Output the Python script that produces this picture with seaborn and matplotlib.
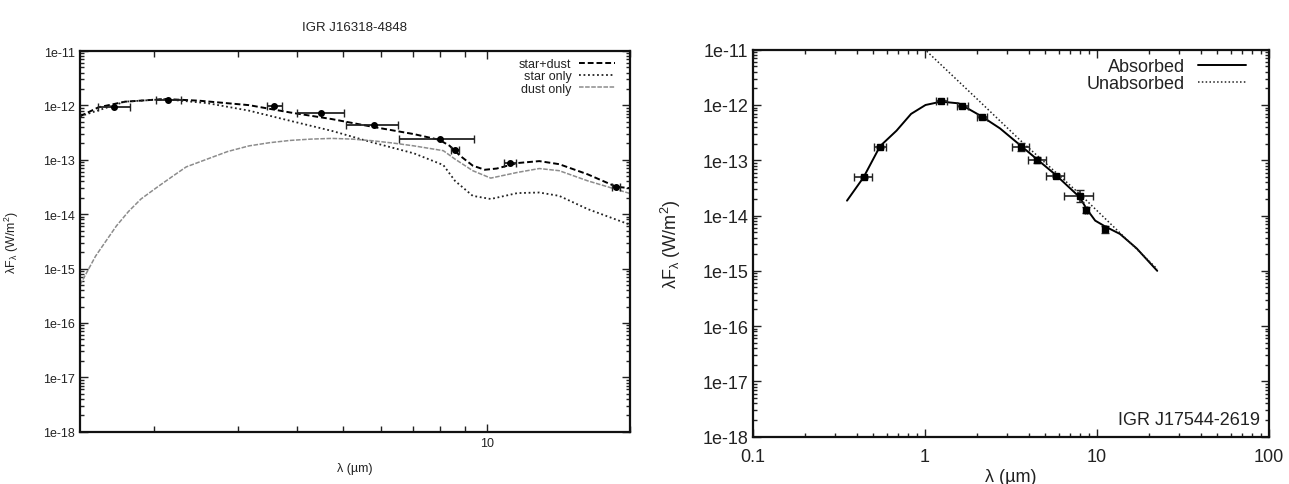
import matplotlib
matplotlib.use("Agg")
import matplotlib.pyplot as plt
import numpy as np
import pandas as pd
import seaborn as sns
from matplotlib.ticker import FixedLocator, FuncFormatter, LogLocator, NullFormatter

# ---- left panel: IGR J16318-4848 ----
sd_wave = [1.40, 1.53, 1.74, 2.11, 2.49, 3.17, 3.87, 4.73, 5.75, 7.04, 7.95, 8.36,
           8.79, 9.35, 9.91, 10.5, 11.6, 12.9, 14.2, 16.3, 18.7, 20.0]
sd_flux = [6.3e-13, 9.2e-13, 1.17e-12, 1.31e-12, 1.22e-12, 1.01e-12, 7.4e-13, 5.6e-13,
           4.05e-13, 2.96e-13, 2.33e-13, 1.81e-13, 1.19e-13, 7.8e-14, 6.55e-14, 6.9e-14,
           8.7e-14, 9.45e-14, 8.3e-14, 5.4e-14, 3.2e-14, 3.0e-14]

star_wave = [1.40, 1.74, 2.11, 2.59, 3.17, 3.87, 4.73, 5.75, 7.04, 8.11, 8.58, 9.35,
             10.2, 11.6, 12.9, 14.2, 16.3, 20.0]
star_flux = [6.3e-13, 1.17e-12, 1.30e-12, 1.10e-12, 8.0e-13, 5.2e-13, 3.4e-13, 2.09e-13,
             1.31e-13, 8.0e-14, 4.1e-14, 2.17e-14, 1.9e-14, 2.44e-14, 2.5e-14, 2.17e-14,
             1.24e-14, 6.4e-15]

dust_wave = [1.40, 1.51, 1.587, 1.67, 1.77, 1.88, 2.04, 2.2, 2.34, 2.59, 2.86, 3.17,
             3.5, 3.87, 4.28, 4.73, 5.22, 5.75, 6.36, 7.04, 8.11, 8.58, 9.35, 10.2,
             11.6, 12.9, 14.2, 16.3, 20.0]
dust_flux = [5.0e-16, 1.7e-15, 3.2e-15, 6.1e-15, 1.12e-14, 1.9e-14, 3.2e-14, 5.1e-14,
             7.4e-14, 1.03e-13, 1.42e-13, 1.8e-13, 2.06e-13, 2.27e-13, 2.4e-13, 2.47e-13,
             2.4e-13, 2.24e-13, 2.03e-13, 1.8e-13, 1.47e-13, 1.03e-13, 6.3e-14, 4.6e-14,
             5.85e-14, 6.9e-14, 6.3e-14, 4.1e-14, 2.4e-14]

obs1_wave = [1.65, 2.14, 3.57, 4.5, 5.8, 8.0, 8.57, 11.2, 18.7]
obs1_lo = [1.526, 2.02, 3.46, 3.99, 5.06, 6.55, 8.4, 10.9, 18.3]
obs1_hi = [1.78, 2.28, 3.72, 5.01, 6.5, 9.4, 8.75, 11.5, 19.1]
obs1_flux = [9.4e-13, 1.27e-12, 9.9e-13, 7.2e-13, 4.4e-13, 2.37e-13, 1.5e-13, 8.6e-14, 3.1e-14]

# ---- right panel: IGR J17544-2619 ----
abs_wave = [0.352, 0.439, 0.548, 0.683, 0.83, 1.007, 1.243, 1.57, 2.14, 2.73, 3.6, 4.5,
            5.77, 7.94, 8.7, 9.76, 11.2, 13.6, 17.0, 22.4]
abs_flux = [1.86e-14, 4.9e-14, 1.8e-13, 3.43e-13, 6.9e-13, 1.0e-12, 1.15e-12, 1.07e-12,
            6.2e-13, 3.77e-13, 1.84e-13, 1.03e-13, 5.4e-14, 2.14e-14, 1.32e-14, 8.1e-15,
            6.3e-15, 4.65e-15, 2.55e-15, 1.0e-15]

unabs_wave = [0.95, 2.0, 3.6, 8.0, 22.4]
unabs_flux = [1.17e-11, 1.3e-12, 2.26e-13, 2.4e-14, 1.08e-15]

obs2_wave = [0.439, 0.548, 1.243, 1.64, 2.14, 3.6, 4.5, 5.77, 7.94, 8.59, 11.2]
obs2_lo = [0.388, 0.503, 1.157, 1.53, 2.01, 3.22, 3.96, 5.02, 6.43, 8.5, 11.1]
obs2_hi = [0.49, 0.595, 1.34, 1.77, 2.28, 4.02, 5.02, 6.43, 9.52, 8.7, 11.3]
obs2_flux = [4.9e-14, 1.76e-13, 1.2e-12, 9.45e-13, 5.97e-13, 1.76e-13, 1.0e-13, 5.27e-14,
             2.29e-14, 1.28e-14, 5.6e-15]
obs2_flo = [4.7e-14, 1.7e-13, 1.16e-12, 9.2e-13, 5.8e-13, 1.49e-13, 8.9e-14, 5.0e-14,
            1.73e-14, 1.1e-14, 4.8e-15]
obs2_fhi = [5.1e-14, 1.82e-13, 1.24e-12, 9.7e-13, 6.15e-13, 2.05e-13, 1.13e-13, 5.55e-14,
            2.9e-14, 1.45e-14, 6.5e-15]

y_major = [1e-11, 1e-12, 1e-13, 1e-14, 1e-15, 1e-16, 1e-17, 1e-18]

sns.set_style("ticks")
plt.rcParams["font.family"] = ["Liberation Sans", "DejaVu Sans"]
plt.rcParams["mathtext.default"] = "regular"


def style_axis(ax, size, lw):
    ax.set_yscale("log")
    ax.set_ylim(1e-18, 1e-11)
    ax.yaxis.set_major_locator(FixedLocator(y_major))
    ax.yaxis.set_major_formatter(FuncFormatter(lambda v, p: f"1e{int(round(np.log10(v)))}"))
    ax.yaxis.set_minor_locator(LogLocator(base=10, subs=np.arange(2, 10), numticks=50))
    ax.yaxis.set_minor_formatter(NullFormatter())
    ax.tick_params(which="both", direction="in", top=True, right=True,
                   labelsize=size, colors="#222222", width=1)
    ax.tick_params(which="major", length=6)
    ax.tick_params(which="minor", length=3)
    for sp in ax.spines.values():
        sp.set_linewidth(lw)
        sp.set_color("#111111")


fig = plt.figure(figsize=(12.89, 4.85), dpi=100)

# left panel
ax1 = fig.add_axes([80 / 1289, 1 - 432.7 / 485, 550 / 1289, 380.7 / 485])
ax1.set_xscale("log")
sns.lineplot(data=pd.DataFrame({"w": sd_wave, "f": sd_flux}), x="w", y="f", ax=ax1,
             color="black", lw=1.4, linestyle=(0, (3, 1.5)), sort=False, estimator=None,
             label="star+dust")
sns.lineplot(data=pd.DataFrame({"w": star_wave, "f": star_flux}), x="w", y="f", ax=ax1,
             color="#222222", lw=1.3, linestyle=(0, (1, 1.5)), sort=False, estimator=None,
             label="star only")
sns.lineplot(data=pd.DataFrame({"w": dust_wave, "f": dust_flux}), x="w", y="f", ax=ax1,
             color="#8c8c8c", lw=1.1, linestyle=(0, (3, 1)), sort=False, estimator=None,
             label="dust only")
o1 = np.array(obs1_wave)
ax1.errorbar(o1, obs1_flux, xerr=[o1 - np.array(obs1_lo), np.array(obs1_hi) - o1],
             fmt="o", ms=4, color="black", ecolor="#222222", elinewidth=1.3, capsize=3)
style_axis(ax1, 9, 1.6)
ax1.set_xlim(1.4, 20)
ax1.xaxis.set_major_locator(FixedLocator([10]))
ax1.xaxis.set_major_formatter(FuncFormatter(lambda v, p: f"{v:g}"))
ax1.xaxis.set_minor_locator(LogLocator(base=10, subs=np.arange(2, 10), numticks=20))
ax1.xaxis.set_minor_formatter(NullFormatter())
ax1.tick_params(axis="x", which="minor", length=4)
ax1.set_xlabel("λ (µm)", fontsize=9, color="#222222", labelpad=10)
ax1.set_ylabel("λF$_{λ}$ (W/m$^{2}$)", fontsize=9, color="#222222", labelpad=16)
ax1.set_title("IGR J16318-4848", fontsize=9.5, color="#222222", pad=15)
ax1.legend(loc="upper right", bbox_to_anchor=(1 - 5 / 550, 1 + 3 / 380.7),
           frameon=False, markerfirst=False, fontsize=9,
           handlelength=2.9, handletextpad=0.6, labelspacing=0.02,
           borderaxespad=0.4, labelcolor="#222222")

# right panel
ax2 = fig.add_axes([753 / 1289, 1 - 437.7 / 485, 516 / 1289, 387 / 485])
ax2.set_xscale("log")
sns.lineplot(data=pd.DataFrame({"w": abs_wave, "f": abs_flux}), x="w", y="f", ax=ax2,
             color="black", lw=1.4, sort=False, estimator=None, label="Absorbed")
sns.lineplot(data=pd.DataFrame({"w": unabs_wave, "f": unabs_flux}), x="w", y="f", ax=ax2,
             color="#222222", lw=1.1, linestyle=(0, (1, 1.5)), sort=False, estimator=None,
             label="Unabsorbed")
o2 = np.array(obs2_wave)
f2 = np.array(obs2_flux)
ax2.errorbar(o2, f2, xerr=[o2 - np.array(obs2_lo), np.array(obs2_hi) - o2],
             yerr=[f2 - np.array(obs2_flo), np.array(obs2_fhi) - f2],
             fmt="s", ms=4, color="black", ecolor="#222222", elinewidth=1.2, capsize=3)
style_axis(ax2, 13, 1.6)
ax2.set_xlim(0.1, 100)
ax2.xaxis.set_major_locator(FixedLocator([0.1, 1, 10, 100]))
ax2.xaxis.set_major_formatter(FuncFormatter(lambda v, p: f"{v:g}"))
ax2.xaxis.set_minor_locator(LogLocator(base=10, subs=np.arange(2, 10), numticks=20))
ax2.xaxis.set_minor_formatter(NullFormatter())
ax2.tick_params(axis="x", which="major", pad=8)
ax2.set_xlabel("λ (µm)", fontsize=13, color="#222222", labelpad=2)
ax2.set_ylabel("λF$_{λ}$ (W/m$^{2}$)", fontsize=13, color="#222222", labelpad=14)
ax2.text(0.982, 0.044, "IGR J17544-2619", transform=ax2.transAxes, ha="right",
         va="center", fontsize=13, color="#222222")
ax2.legend(loc="upper right", bbox_to_anchor=(1 - 10 / 516, 1 + 4 / 387),
           frameon=False, markerfirst=False, fontsize=13,
           handlelength=2.7, handletextpad=0.7, labelspacing=0.0,
           borderaxespad=0.3, labelcolor="#222222")

fig.savefig("out.png", dpi=100)
